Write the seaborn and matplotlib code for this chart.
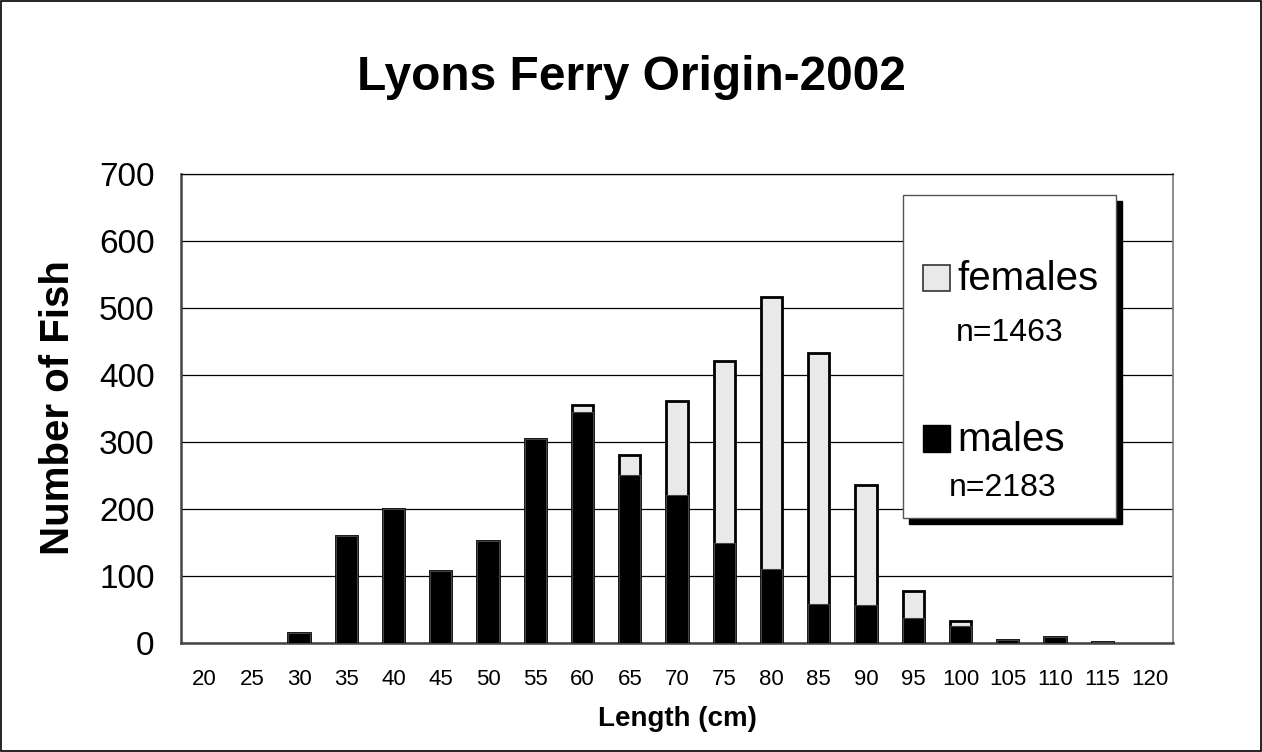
import matplotlib
matplotlib.use("Agg")
import matplotlib.pyplot as plt
from matplotlib.patches import Rectangle
import seaborn as sns
import pandas as pd
import numpy as np

# longueurs (cm) et nombre de poissons par sexe
lengths = ["20", "25", "30", "35", "40", "45", "50", "55", "60", "65", "70",
           "75", "80", "85", "90", "95", "100", "105", "110", "115", "120"]
males = [0, 0, 15, 160, 200, 107, 152, 305, 345, 251, 221,
         150, 110, 58, 57, 37, 26, 5, 9, 2, 0]
females = [0, 0, 0, 0, 0, 0, 0, 0, 10, 30, 140,
           271, 407, 375, 179, 40, 7, 0, 0, 0, 0]
yticks = [0, 100, 200, 300, 400, 500, 600, 700]

title = "Lyons Ferry Origin-2002"
n_females = "n=1463"
n_males = "n=2183"

df = pd.DataFrame({"length": lengths, "males": males, "females": females})
df["total"] = df["males"] + df["females"]
# pas de barre pour les classes vides
df["total"] = df["total"].replace(0, np.nan)
df["males"] = df["males"].replace(0, np.nan)

sns.set_style("white")
plt.rcParams["font.family"] = ["Liberation Sans", "DejaVu Sans"]
plt.rcParams["text.color"] = "black"
plt.rcParams["axes.labelcolor"] = "black"
plt.rcParams["xtick.labelcolor"] = "black"
plt.rcParams["ytick.labelcolor"] = "black"

fig = plt.figure(figsize=(12.62, 7.52), dpi=100)
ax = fig.add_axes([181 / 1262, 1 - 643 / 752, 992 / 1262, 469 / 752])

# barres empilees : total (femelles) derriere, males devant
sns.barplot(data=df, x="length", y="total", order=lengths, color="#e9e9e9",
            edgecolor="black", linewidth=2, width=0.45, saturation=1, ax=ax, zorder=3)
sns.barplot(data=df, x="length", y="males", order=lengths, color="black",
            edgecolor="#444444", linewidth=0.8, width=0.45, saturation=1, ax=ax, zorder=4)

ax.set_ylim(0, 700)
ax.set_xlim(-0.5, len(lengths) - 0.5)
ax.set_xticks(range(len(lengths)))
ax.set_xticklabels(lengths)
ax.set_yticks(yticks)
ax.set_yticklabels([str(v) for v in yticks], fontsize=24)
ax.tick_params(axis="x", which="major", length=0, labelsize=16, pad=19)
ax.set_xticks(np.arange(-0.5, len(lengths), 1), minor=True)
ax.tick_params(axis="x", which="minor", length=14, direction="inout", color="#222222", width=1)
ax.tick_params(axis="y", which="major", length=7, color="#333333", width=1, pad=12)
ax.yaxis.grid(True, color="black", linewidth=0.9, zorder=0)
ax.set_axisbelow(True)
for s in ax.spines.values():
    s.set_color("#777777")
    s.set_linewidth(1.2)
ax.spines["left"].set_color("#444444")
ax.spines["bottom"].set_color("#444444")
ax.spines["left"].set_linewidth(1.8)
ax.spines["bottom"].set_linewidth(1.8)
ax.spines["top"].set_color("black")
ax.spines["top"].set_linewidth(0.9)

ax.set_xlabel("Length (cm)", fontsize=20, fontweight="bold")
ax.set_ylabel("Number of Fish", fontsize=29, fontweight="bold")
ax.xaxis.set_label_coords(0.5, -0.134)
ax.yaxis.set_label_coords(-0.105, 0.502)

fig.text(0.5, 1 - 77 / 752, title, fontsize=34.5, fontweight="bold",
         ha="center", va="center")


def fx(px):
    return px / 1262


def fy(py):
    return 1 - py / 752


# legende dessinee a la main (boite avec ombre)
fig.patches.append(Rectangle((fx(909), fy(524)), fx(213), 323 / 752, transform=fig.transFigure,
                             facecolor="black", edgecolor="black", zorder=5))
fig.patches.append(Rectangle((fx(903), fy(518)), fx(213), 323 / 752, transform=fig.transFigure,
                             facecolor="white", edgecolor="#555555", linewidth=1, zorder=6))
fig.patches.append(Rectangle((fx(923), fy(291)), fx(27), 26 / 752, transform=fig.transFigure,
                             facecolor="#e9e9e9", edgecolor="#333333", linewidth=1.2, zorder=7))
fig.patches.append(Rectangle((fx(923), fy(452)), fx(27), 27 / 752, transform=fig.transFigure,
                             facecolor="black", edgecolor="black", linewidth=1, zorder=7))
fig.text(fx(957), fy(279), "females", fontsize=29, ha="left", va="center", zorder=8)
fig.text(fx(1010), fy(333), n_females, fontsize=23, ha="center", va="center", zorder=8)
fig.text(fx(957), fy(440), "males", fontsize=29, ha="left", va="center", zorder=8)
fig.text(fx(1003), fy(488), n_males, fontsize=23, ha="center", va="center", zorder=8)

# cadre exterieur
fig.patches.append(Rectangle((0.0008, 0.0013), 0.9984, 0.9974, transform=fig.transFigure,
                             facecolor="none", edgecolor="black", linewidth=1.2, zorder=1))

fig.savefig("out.png", dpi=100)
